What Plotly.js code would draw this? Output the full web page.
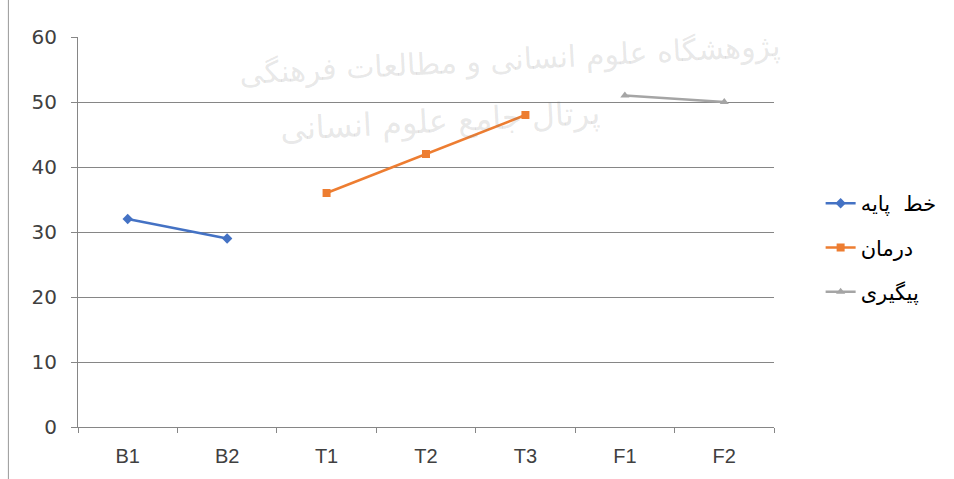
<!DOCTYPE html>
<html><head><meta charset="utf-8">
<script src="https://cdn.plot.ly/plotly-3.0.1.min.js"></script>
<style>html,body{margin:0;padding:0;background:#fff}</style>
</head><body><div id="chart" style="width:954px;height:479px"></div>
<script>
const categories = ["B1","B2","T1","T2","T3","F1","F2"];
const baselineCats = ["B1","B2"];
const baselineVals = [32, 29];
const treatmentCats = ["T1","T2","T3"];
const treatmentVals = [36, 42, 48];
const followCats = ["F1","F2"];
const followVals = [51, 50];
const seriesNames = ["خط  پایه", "درمان", "پیگیری"];
const yTicks = [0,10,20,30,40,50,60];

const traces = [
 {x: baselineCats, y: baselineVals, name: seriesNames[0], type:'scatter', mode:'lines+markers',
  line:{color:'#4472C4', width:2.5}, marker:{symbol:'diamond', size:8, color:'#4472C4'}, legendgroup:'a'},
 {x: treatmentCats, y: treatmentVals, name: seriesNames[1], type:'scatter', mode:'lines+markers',
  line:{color:'#ED7D31', width:2.5}, marker:{symbol:'square', size:8, color:'#ED7D31'}, legendgroup:'b'},
 {x: followCats, y: followVals, name: seriesNames[2], type:'scatter', mode:'lines+markers',
  line:{color:'#A5A5A5', width:2.5}, marker:{symbol:'triangle-up', size:8, color:'#A5A5A5'}, legendgroup:'c'}
];

const layout = {
  width:954, height:479,
  margin:{l:78, r:177, t:37, b:52},
  paper_bgcolor:'#fff', plot_bgcolor:'#fff',
  font:{family:'DejaVu Sans, Liberation Sans, Arial, sans-serif', color:'#404040', size:16},
  showlegend:true,
  xaxis:{type:'category', categoryorder:'array', categoryarray:categories,
    range:[-0.5, 6.5], showgrid:false, showline:true, linecolor:'#868686', linewidth:1,
    ticks:'outside', tickson:'boundaries', ticklen:5, tickcolor:'#868686', ticklabelstandoff:11,
    tickfont:{size:20, color:'#404040', family:'Liberation Sans, Arial'}, zeroline:false, fixedrange:true},
  yaxis:{range:[0,60], tickvals:yTicks, showgrid:true, gridcolor:'#868686', gridwidth:1,
    showline:true, linecolor:'#868686', ticks:'outside', ticklen:6, tickcolor:'#868686', ticklabelstandoff:10,
    tickfont:{size:20, color:'#404040', family:'DejaVu Sans'}, zeroline:false, fixedrange:true},
  legend:{x:1.067, y:0.46, xanchor:'left', yanchor:'middle', traceorder:'grouped',
    tracegroupgap:14, font:{size:21, color:'#000', family:'DejaVu Sans'}, bgcolor:'rgba(0,0,0,0)'},
  shapes:[
    {type:'line', xref:'paper', yref:'paper', x0:-0.1, x1:-0.1, y0:1.1, y1:-0.14, line:{color:'#999', width:1}}
  ],
  annotations:[
    {text:'پژوهشگاه علوم انسانی و مطالعات فرهنگی', xref:'paper', yref:'paper', x:0.62, y:1.03,
     showarrow:false, font:{size:30, color:'rgba(120,120,120,0.18)', family:'DejaVu Sans'}, textangle:-3},
    {text:'پرتال جامع علوم انسانی', xref:'paper', yref:'paper', x:0.52, y:0.86,
     showarrow:false, font:{size:32, color:'rgba(120,120,120,0.18)', family:'DejaVu Sans'}, textangle:-3}
  ]
};
Plotly.newPlot('chart', traces, layout, {displayModeBar:false, staticPlot:true});
</script></body></html>
